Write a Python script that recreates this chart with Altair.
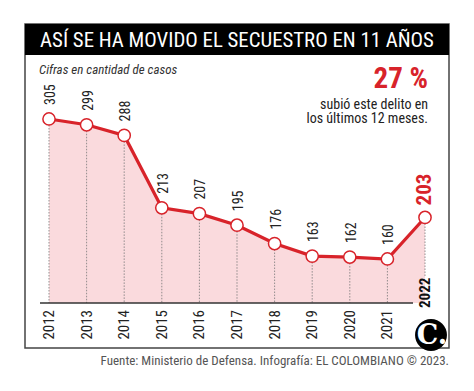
import altair as alt
import pandas as pd

years = [2012, 2013, 2014, 2015, 2016, 2017, 2018, 2019, 2020, 2021, 2022]
cases = [305, 299, 288, 213, 207, 195, 176, 163, 162, 160, 203]
year_labels = ["2012", "2013", "2014", "2015", "2016", "2017", "2018", "2019", "2020", "2021", "2022"]

TITLE = "ASÍ SE HA MOVIDO EL SECUESTRO EN 11 AÑOS"
SUBTITLE = "Cifras en cantidad de casos"
BIG = "27 %"
NOTE1 = "subió este delito en"
NOTE2 = "los últimos 12 meses."
SOURCE = "Fuente: Ministerio de Defensa. Infografía: EL COLOMBIANO © 2023."

W, H = 458, 375
BASE = 114.43
FONT = "Liberation Sans Narrow, Roboto Condensed, Roboto, sans-serif"
RED = "#d8232a"

df = pd.DataFrame({"year": years, "cases": cases, "label": year_labels})
df["base"] = BASE
df["rule_end"] = [BASE] * 10 + [141]
df["is_last"] = df["year"] == years[-1]

xs = alt.Scale(domain=[2010.9096, 2023.0904], nice=False, zero=False)
ys = alt.Scale(domain=[31.57, 419.96], nice=False, zero=False)
X = alt.X("year:Q", scale=xs, axis=None)
Y = alt.Y("cases:Q", scale=ys, axis=None)

one = pd.DataFrame({"a": [0]})

base = alt.Chart(df)

area = base.mark_area(color="#fadadd", opacity=1).encode(
    x=X, y=Y, y2=alt.Y2("base:Q")
)
rules = base.mark_rule(color="#777", strokeWidth=0.8, strokeDash=[1.5, 1.5]).encode(
    x=X, y=Y, y2=alt.Y2("rule_end:Q")
)
baseline = alt.Chart(one).mark_rule(color="#333", strokeWidth=1.5).encode(
    x=alt.value(32), x2=alt.value(405), y=alt.value(295)
)
line = base.mark_line(color=RED, strokeWidth=3.2).encode(x=X, y=Y)
points = base.mark_point(
    filled=True, fill="white", stroke=RED, strokeWidth=1.5, size=150, opacity=1
).encode(x=X, y=Y)

vals = alt.Chart(df[~df["is_last"]]).mark_text(
    angle=270, align="left", baseline="middle", dx=14, dy=2, fontSize=14,
    font=FONT, color="#222"
).encode(x=X, y=Y, text=alt.Text("cases:Q"))
last_val = alt.Chart(df[df["is_last"]]).mark_text(
    angle=270, align="left", baseline="middle", dx=12, dy=0, fontSize=21,
    font=FONT, fontWeight="bold", color=RED
).encode(x=X, y=Y, text=alt.Text("cases:Q"))

yr = alt.Chart(df[~df["is_last"]]).mark_text(
    angle=270, align="right", baseline="middle", dx=-7, fontSize=15,
    font=FONT, color="#222"
).encode(x=X, y=alt.Y("base:Q", scale=ys, axis=None), text="label:N")
yr_last = alt.Chart(df[df["is_last"]]).mark_text(
    angle=270, align="left", baseline="middle", dx=-5, fontSize=15,
    font=FONT, fontWeight="bold", color="#111"
).encode(x=X, y=alt.Y("base:Q", scale=ys, axis=None), text="label:N")

frame = alt.Chart(one).mark_rect(
    fill="transparent", stroke="#444", strokeWidth=1.5
).encode(x=alt.value(17), x2=alt.value(441), y=alt.value(16), y2=alt.value(340))
title_bar = alt.Chart(one).mark_rect(fill="black").encode(
    x=alt.value(17), x2=alt.value(441), y=alt.value(16), y2=alt.value(47)
)
title = alt.Chart(one).mark_text(
    text=TITLE, font=FONT, fontSize=20.8, color="white", align="center", baseline="alphabetic"
).encode(x=alt.value(229), y=alt.value(39))
subtitle = alt.Chart(one).mark_text(
    text=SUBTITLE, font=FONT, fontSize=13, fontStyle="italic", color="#333",
    align="left", baseline="alphabetic"
).encode(x=alt.value(31), y=alt.value(66))
big = alt.Chart(one).mark_text(
    text=BIG, font=FONT, fontSize=29, fontWeight="bold", color=RED,
    align="right", baseline="alphabetic"
).encode(x=alt.value(420), y=alt.value(80))
n1 = alt.Chart(one).mark_text(
    text=NOTE1, font=FONT, fontSize=14, color="#222", align="right", baseline="alphabetic"
).encode(x=alt.value(420), y=alt.value(100.5))
n2 = alt.Chart(one).mark_text(
    text=NOTE2, font=FONT, fontSize=14, color="#222", align="right", baseline="alphabetic"
).encode(x=alt.value(420), y=alt.value(115))
src = alt.Chart(one).mark_text(
    text=SOURCE, font=FONT, fontSize=13, color="#555", align="right", baseline="alphabetic"
).encode(x=alt.value(441), y=alt.value(357))
logo = alt.Chart(one).mark_point(
    filled=True, fill="black", size=1018, opacity=1, shape="circle"
).encode(x=alt.value(423), y=alt.value(327))
logo_txt = alt.Chart(one).mark_text(
    text="C.", font="DejaVu Serif, Liberation Serif, serif", fontSize=27,
    fontWeight="bold", color="white", align="center", baseline="middle"
).encode(x=alt.value(424), y=alt.value(328))

chart = alt.layer(
    frame, title_bar, area, rules, baseline, line, points, vals, last_val,
    yr, yr_last, title, subtitle, big, n1, n2, src, logo, logo_txt
).properties(
    width=W, height=H, padding=0,
    autosize=alt.AutoSizeParams(type="none"),
    background="white"
).configure_view(stroke=None)

chart.save("out.html", embed_options={"renderer": "svg", "actions": False})
